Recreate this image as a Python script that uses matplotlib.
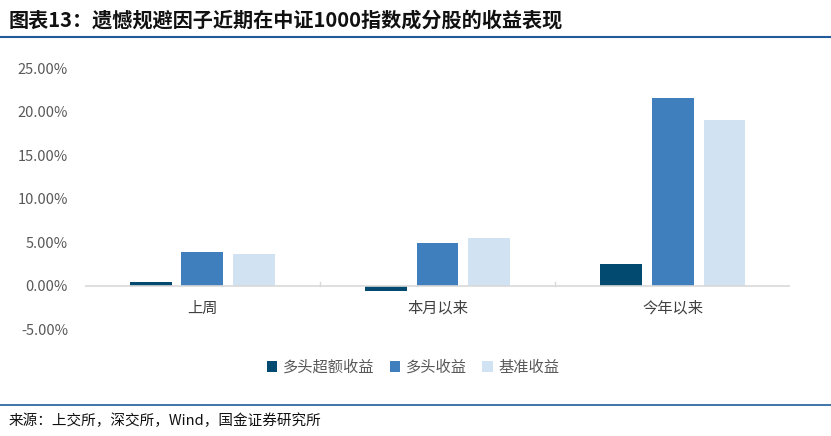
import matplotlib.pyplot as plt
import numpy as np
from matplotlib.lines import Line2D
from matplotlib.ticker import FuncFormatter

plt.rcParams['font.family'] = ['Noto Sans CJK SC', 'DejaVu Sans']

categories = ['上周', '本月以来', '今年以来']
series_names = ['多头超额收益', '多头收益', '基准收益']
excess = [0.45, -0.6, 2.5]
long_ret = [3.9, 4.9, 21.6]
bench = [3.6, 5.5, 19.0]
colors = ['#024a70', '#3f7fbd', '#d1e2f2']

fig = plt.figure(figsize=(8.31, 4.36), dpi=100)
ax = fig.add_axes([0.102, 0.245, 0.849, 0.599])

x = np.arange(len(categories))
w = 0.178
step = 0.22
for i, (vals, name) in enumerate(zip([excess, long_ret, bench], series_names)):
    ax.bar(x + (i - 1) * step, vals, w, color=colors[i], label=name, zorder=2)

ax.set_xlim(-0.5, 2.5)
ax.set_ylim(-5, 25)
ax.set_yticks(np.arange(-5, 26, 5))
ax.yaxis.set_major_formatter(FuncFormatter(lambda v, p: f'{v:.2f}%'))
ax.tick_params(axis='y', length=0, labelsize=10.5, colors='#595959', pad=12)
ax.set_xticks([])
for xi, c in zip(x, categories):
    ax.text(xi, -2.6, c, ha='center', va='center', fontsize=11, color='#404040')
for b in [0.5, 1.5]:
    ax.plot([b, b], [0, 0.4], color='#d9d9d9', lw=1, zorder=1)
for s in ax.spines.values():
    s.set_visible(False)
ax.axhline(0, color='#d9d9d9', lw=1.2, zorder=3)

ax.legend(loc='center', bbox_to_anchor=(0.465, -0.145), ncol=3, frameon=False,
          handlelength=0.7, handleheight=0.7, handletextpad=0.35, columnspacing=1.0,
          prop={'size': 11}, labelcolor='#595959')

fig.text(0.01, 0.955, '图表13：遗憾规避因子近期在中证1000指数成分股的收益表现',
         fontsize=14.5, fontweight='bold', va='center', ha='left', color='#111111')
fig.add_artist(Line2D([0.0, 1.0], [0.915, 0.915], color='#1f5c99', lw=1.5))
fig.add_artist(Line2D([0.0, 1.0], [0.071, 0.071], color='#1f5c99', lw=1.2))
fig.text(0.01, 0.035, '来源：上交所，深交所，Wind，国金证券研究所',
         fontsize=10.5, va='center', ha='left', color='#111111')

fig.savefig('out.png', dpi=100)
